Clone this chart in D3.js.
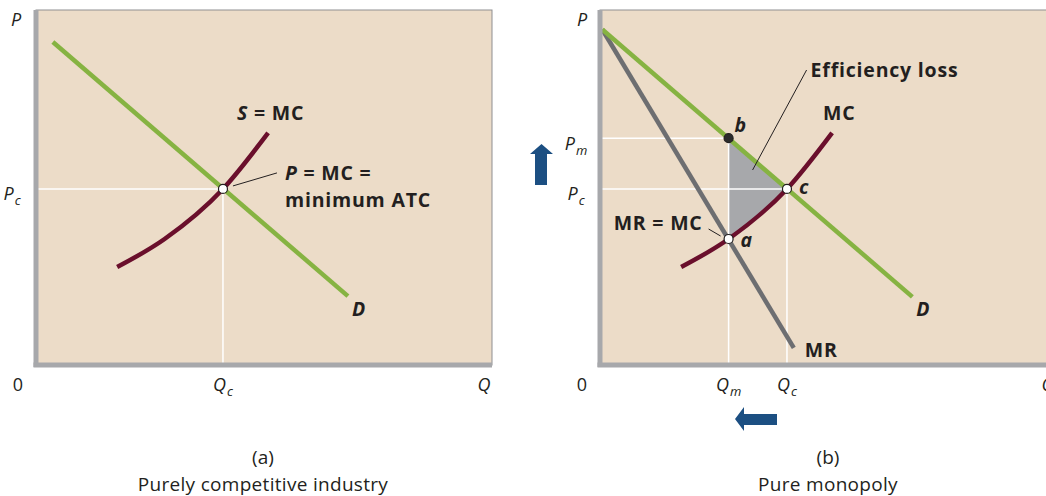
<!DOCTYPE html>
<html><head><meta charset="utf-8">
<script src="https://cdn.jsdelivr.net/npm/d3@7"></script>
<style>
body{margin:0;background:#fff;}
svg{display:block;font-family:"Open Sans",Lato,sans-serif;}
</style></head><body>
<svg id="c" width="1046" height="496"></svg>
<script>
// ---- data (Q and P in chart units 0..100) ----
const demandA = [[3.7, 91], [68.4, 19.4]];
const mcCurve = [[17.8, 27.6], [28.2, 35.5], [41, 49.6], [50.9, 65.4]];
const demandB = [[0.5, 94.5], [68.5, 19.2]];
const mrB = [[0.5, 94.5], [42.5, 4.8]];
const Qc = 41, Pc = 49.6, Qm = 28.2, Pm = 63.9, Pa = 35.5;
const captions = [["(a)", "Purely competitive industry"], ["(b)", "Pure monopoly"]];

const svg = d3.select("#c");
const W = 456, H = 355;
const x = d3.scaleLinear().domain([0, 100]).range([0, W]);
const y = d3.scaleLinear().domain([0, 100]).range([H, 0]);
const line = d3.line().x(d => x(d[0])).y(d => y(d[1]));
const curve = d3.line().x(d => x(d[0])).y(d => y(d[1])).curve(d3.curveMonotoneX);

const BG = "#ecdcc8", AX = "#a7a8ab", GREEN = "#86b342", MAROON = "#6a0f2c", GRAY = "#6d6e71", BLUE = "#1c4f82", TXT = "#231f20";

function panel(ox, oy) {
  const g = svg.append("g").attr("transform", `translate(${ox},${oy})`);
  g.append("rect").attr("x", 0).attr("y", 0).attr("width", W).attr("height", H)
    .attr("fill", BG).attr("stroke", "#8f8f92").attr("stroke-width", 1);
  return g;
}
function axes(g) {
  g.append("line").attr("x1", 0).attr("x2", 0).attr("y1", 0).attr("y2", H + 2)
    .attr("stroke", AX).attr("stroke-width", 5);
  g.append("line").attr("x1", -2.5).attr("x2", W).attr("y1", H).attr("y2", H)
    .attr("stroke", AX).attr("stroke-width", 5);
}
function it(g, px, py, main, sub, anchor, upright) {
  const t = g.append("text").attr("x", px).attr("y", py).attr("font-size", 18)
    .attr("font-style", upright ? "normal" : "italic").attr("fill", TXT).attr("text-anchor", anchor || "middle");
  t.append("tspan").text(main);
  if (sub) t.append("tspan").attr("font-size", 13).attr("dx", 1).attr("dy", 5).text(sub);
  return t;
}
function bold(g, px, py, txt, anchor) {
  return g.append("text").attr("x", px).attr("y", py).attr("font-size", 19.5).attr("font-weight", 700)
    .attr("letter-spacing", 0.8).attr("fill", TXT).attr("text-anchor", anchor || "start").text(txt);
}
function dot(g, q, p, fill) {
  g.append("circle").attr("cx", x(q)).attr("cy", y(p)).attr("r", 4.5)
    .attr("fill", fill).attr("stroke", "#231f20").attr("stroke-width", 1.2);
}

// ---------------- Panel (a) ----------------
const ga = panel(36, 10);
ga.append("line").attr("x1", 0).attr("x2", x(Qc)).attr("y1", y(Pc)).attr("y2", y(Pc)).attr("stroke", "#fff").attr("stroke-width", 1.5);
ga.append("line").attr("x1", x(Qc)).attr("x2", x(Qc)).attr("y1", y(Pc)).attr("y2", H).attr("stroke", "#fff").attr("stroke-width", 1.5);
axes(ga);
ga.append("path").attr("d", line(demandA)).attr("fill", "none").attr("stroke", GREEN).attr("stroke-width", 4.5);
ga.append("path").attr("d", curve(mcCurve)).attr("fill", "none").attr("stroke", MAROON).attr("stroke-width", 4.5);
ga.append("line").attr("x1", x(Qc) + 10).attr("y1", y(Pc) - 3).attr("x2", x(Qc) + 54).attr("y2", y(Pc) - 16)
  .attr("stroke", TXT).attr("stroke-width", 1);
dot(ga, Qc, Pc, "#fff");
const sl = bold(ga, x(Qc) + 14, 110, "");
sl.append("tspan").attr("font-style", "italic").text("S");
sl.append("tspan").text(" = MC");
const pl = bold(ga, x(Qc) + 62, 170, "");
pl.append("tspan").attr("font-style", "italic").text("P");
pl.append("tspan").text(" = MC =");
bold(ga, x(Qc) + 62, 197, "minimum ATC");
bold(ga, x(demandA[1][0]) + 4, 306, "D").attr("font-style", "italic");
it(ga, -20, 16, "P");
it(ga, -24, 190, "P", "c");
it(ga, -18, 381, "0", null, "middle", true);
it(ga, x(Qc), 381, "Q", "c");
it(ga, W - 8, 381, "Q");

// ---------------- Panel (b) ----------------
const gb = panel(600, 10);
const dB = q => demandB[0][1] + (q - demandB[0][0]) * (demandB[1][1] - demandB[0][1]) / (demandB[1][0] - demandB[0][0]);
// efficiency-loss polygon: along D from b to c, then back along MC to a
const mcPath = gb.append("path").attr("d", curve(mcCurve)).attr("fill", "none").attr("stroke", "none");
const node = mcPath.node(), L = node.getTotalLength();
const pts = [];
for (let i = 0; i <= 200; i++) {
  const p = node.getPointAtLength(L * i / 200);
  if (p.x >= x(Qm) && p.x <= x(Qc)) pts.push([p.x, p.y]);
}
pts.reverse();
const poly = [[x(Qm), y(dB(Qm))], [x(Qc), y(Pc)]].concat(pts).concat([[x(Qm), y(Pa)]]);
gb.append("path").attr("d", "M" + poly.map(p => p.join(",")).join("L") + "Z").attr("fill", "#a7a8ab");
gb.append("line").attr("x1", 0).attr("x2", x(Qm)).attr("y1", y(Pm)).attr("y2", y(Pm)).attr("stroke", "#fff").attr("stroke-width", 1.5);
gb.append("line").attr("x1", 0).attr("x2", x(Qc)).attr("y1", y(Pc)).attr("y2", y(Pc)).attr("stroke", "#fff").attr("stroke-width", 1.5);
gb.append("line").attr("x1", x(Qm)).attr("x2", x(Qm)).attr("y1", y(Pm)).attr("y2", H).attr("stroke", "#fff").attr("stroke-width", 1.5);
gb.append("line").attr("x1", x(Qc)).attr("x2", x(Qc)).attr("y1", y(Pc)).attr("y2", H).attr("stroke", "#fff").attr("stroke-width", 1.5);
gb.append("path").attr("d", line(mrB)).attr("fill", "none").attr("stroke", GRAY).attr("stroke-width", 4.5);
gb.append("path").attr("d", line(demandB)).attr("fill", "none").attr("stroke", GREEN).attr("stroke-width", 4.5);
gb.append("path").attr("d", curve(mcCurve)).attr("fill", "none").attr("stroke", MAROON).attr("stroke-width", 4.5);
axes(gb);
gb.append("line").attr("x1", x(Qm) + 24).attr("y1", 160).attr("x2", x(Qm) + 78).attr("y2", 60).attr("stroke", TXT).attr("stroke-width", 1);
gb.append("line").attr("x1", x(Qm) - 20).attr("y1", 219).attr("x2", x(Qm) - 8).attr("y2", 226).attr("stroke", TXT).attr("stroke-width", 1);
dot(gb, Qm, Pm, "#2b2b2b");
dot(gb, Qc, Pc, "#fff");
dot(gb, Qm, Pa, "#fff");
bold(gb, x(Qm) + 82, 67, "Efficiency loss");
bold(gb, x(Qc) + 36, 110, "MC");
bold(gb, x(Qm) + 6, 122, "b").attr("font-style", "italic");
bold(gb, x(Qc) + 12, 184, "c").attr("font-style", "italic");
bold(gb, x(Qm) + 12, 237, "a").attr("font-style", "italic");
bold(gb, x(Qm) - 26, 220, "MR = MC", "end");
bold(gb, x(demandB[1][0]) + 4, 306, "D").attr("font-style", "italic");
bold(gb, x(mrB[1][0]) + 11, 347, "MR");
it(gb, -18, 16, "P");
it(gb, -24, 140, "P", "m");
it(gb, -24, 190, "P", "c");
it(gb, -18, 381, "0", null, "middle", true);
it(gb, x(Qm), 381, "Q", "m");
it(gb, x(Qc), 381, "Q", "c");
it(gb, W - 8, 381, "Q");

// arrows
const up = [[541.5, 144], [553, 154], [547, 154], [547, 185], [535, 185], [535, 154], [530, 154]];
svg.append("path").attr("d", "M" + up.join("L") + "Z").attr("fill", BLUE);
const left = [[735, 419], [744, 407], [744, 414], [777, 414], [777, 425], [744, 425], [744, 431]];
svg.append("path").attr("d", "M" + left.join("L") + "Z").attr("fill", BLUE);

// captions
[[263, captions[0]], [828, captions[1]]].forEach(([cx, c]) => {
  svg.append("text").attr("x", cx).attr("y", 464).attr("text-anchor", "middle").attr("font-size", 19).attr("fill", TXT).text(c[0]);
  svg.append("text").attr("x", cx).attr("y", 491).attr("text-anchor", "middle").attr("font-size", 19).attr("letter-spacing", 0.3).attr("fill", TXT).text(c[1]);
});
</script></body></html>
